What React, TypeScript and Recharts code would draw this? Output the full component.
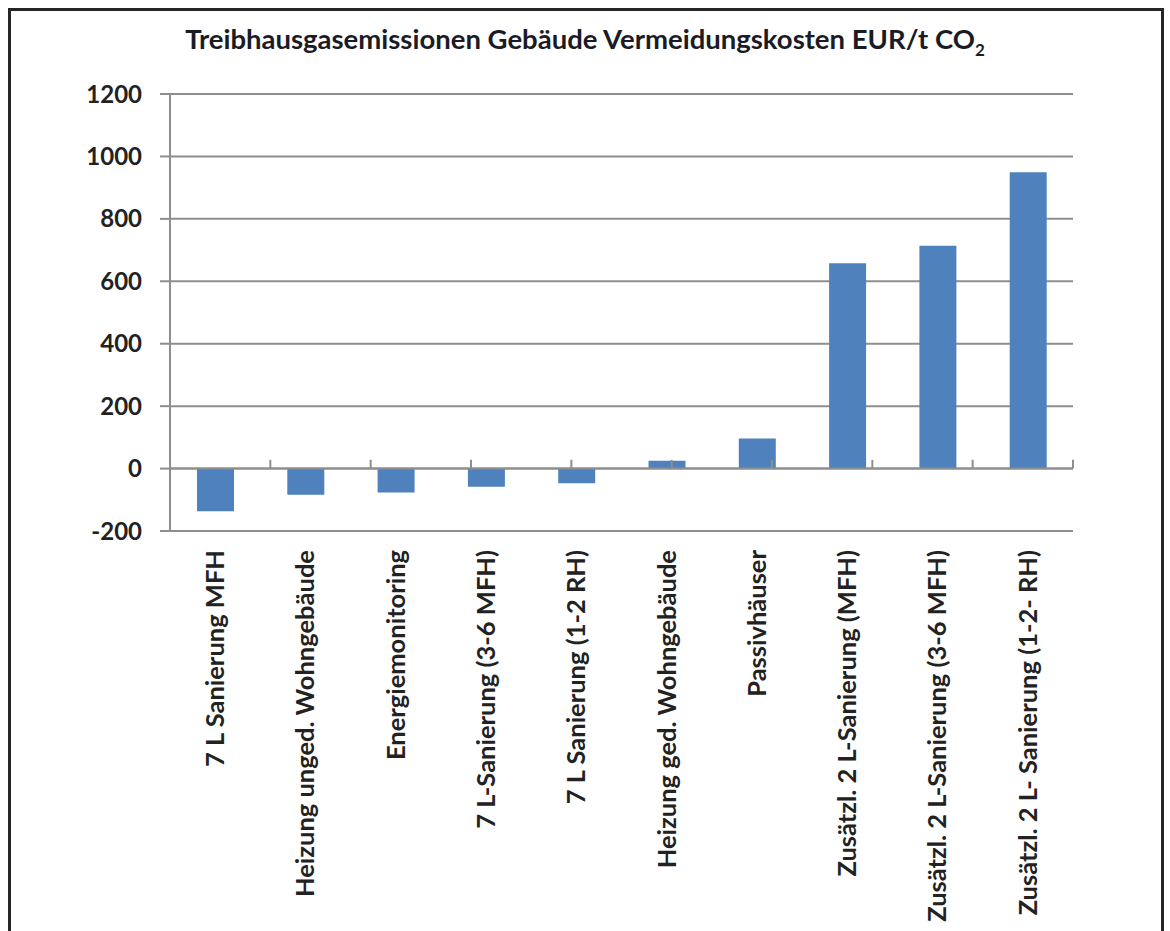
import React from "react";
import { BarChart, Bar, XAxis, YAxis, CartesianGrid, ReferenceLine } from "recharts";

// Vermeidungskosten je Maßnahme (EUR/t CO2)
const categories = [
  "7 L Sanierung MFH",
  "Heizung unged. Wohngebäude",
  "Energiemonitoring",
  "7 L-Sanierung (3-6 MFH)",
  "7 L Sanierung (1-2 RH)",
  "Heizung ged. Wohngebäude",
  "Passivhäuser",
  "Zusätzl. 2 L-Sanierung (MFH)",
  "Zusätzl. 2 L-Sanierung (3-6 MFH)",
  "Zusätzl. 2 L- Sanierung (1-2- RH)",
];
const costs = [-137, -84, -77, -58, -47, 25, 96, 658, 714, 949];
const yTicks = [-200, 0, 200, 400, 600, 800, 1000, 1200];

const data = categories.map((name, i) => ({ name, cost: costs[i] }));

// category boundaries on the zero line (Excel-style ticks between columns)
const boundaryTicks = categories.map((_, i) => i + 1);

const FONT = "Lato, 'Open Sans', sans-serif";
const GRID = "#8e8e8e";
const TEXT = "#222";

const RotatedTick = (props: any) => {
  const { x, y, payload } = props;
  return (
    <g transform={`translate(${x},${y})`}>
      <text
        transform="rotate(-90)"
        textAnchor="end"
        dy="0.35em"
        fill={TEXT}
        fontFamily={FONT}
        fontSize={25.5}
        fontWeight={700}
      >
        {payload.value}
      </text>
    </g>
  );
};

const App = () => {
  return (
    <div
      style={{
        position: "absolute",
        left: 0,
        top: 0,
        width: 1170,
        height: 931,
        overflow: "hidden",
        background: "#fff",
      }}
    >
      <div
        style={{
          position: "absolute",
          left: 8,
          top: 8,
          width: 1156,
          height: 960,
          boxSizing: "border-box",
          border: "3px solid #262626",
          borderBottom: "none",
        }}
      />
      <div
        style={{
          position: "absolute",
          left: 0,
          top: 22,
          width: 1170,
          textAlign: "center",
          fontFamily: FONT,
          fontWeight: 700,
          fontSize: 27.5,
          lineHeight: "34px",
          color: "#1b1b26",
          whiteSpace: "nowrap",
        }}
      >
        Treibhausgasemissionen Gebäude Vermeidungskosten EUR/t CO
        <sub style={{ fontSize: 17, lineHeight: 0 }}>2</sub>
      </div>
      <BarChart
        width={1170}
        height={931}
        data={data}
        margin={{ top: 94, right: 97, left: 0, bottom: 0 }}
        style={{ position: "absolute", left: 0, top: 0 }}
      >
        <CartesianGrid vertical={false} stroke={GRID} strokeWidth={2} />
        <XAxis
          dataKey="name"
          interval={0}
          height={400}
          axisLine={false}
          tickLine={false}
          tickSize={0}
          tickMargin={19}
          tick={<RotatedTick />}
        />
        <XAxis xAxisId="bounds" type="number" domain={[0, 10]} hide />
        <YAxis
          width={170}
          domain={[-200, 1200]}
          ticks={yTicks}
          interval={0}
          tickSize={10}
          tickMargin={18}
          axisLine={{ stroke: GRID, strokeWidth: 2 }}
          tickLine={{ stroke: GRID, strokeWidth: 2 }}
          tick={{ fill: TEXT, fontFamily: FONT, fontSize: 24, fontWeight: 700 }}
        />
        <ReferenceLine y={0} stroke={GRID} strokeWidth={2} />
        {boundaryTicks.map((k) => (
          <ReferenceLine
            key={k}
            xAxisId="bounds"
            segment={[
              { x: k, y: 0 },
              { x: k, y: 28 },
            ]}
            stroke={GRID}
            strokeWidth={2}
          />
        ))}
        <Bar dataKey="cost" fill="#4f81bd" barSize={37} isAnimationActive={false} />
      </BarChart>
    </div>
  );
};

export default App;
